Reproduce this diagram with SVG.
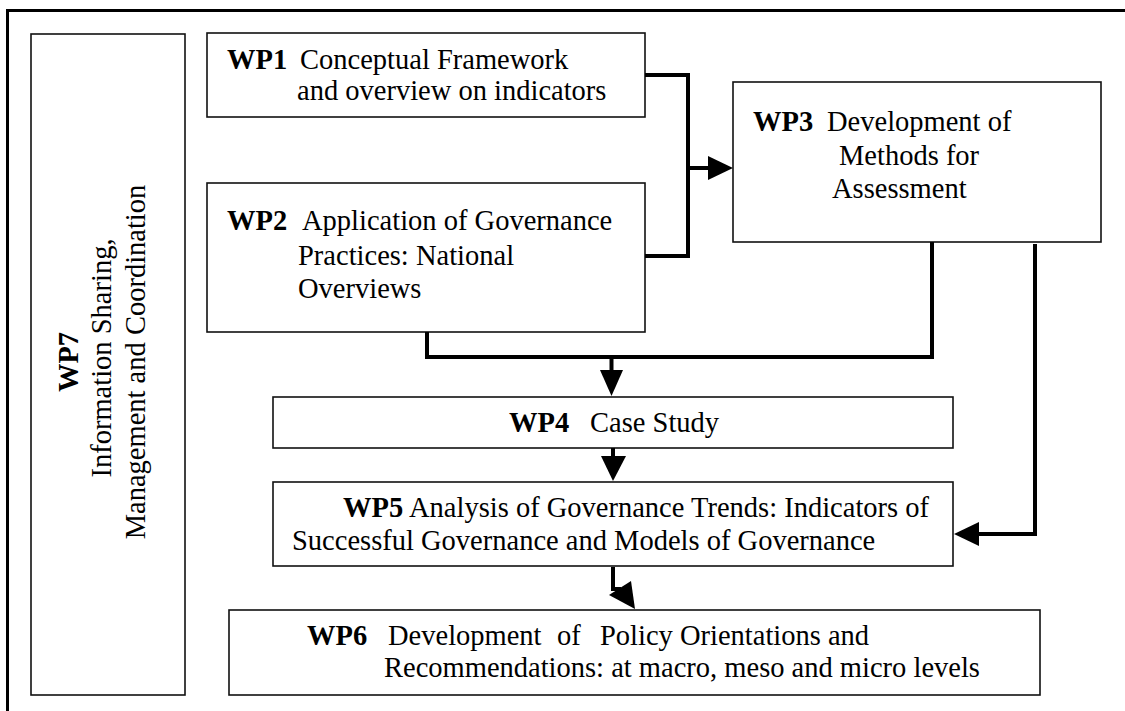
<svg xmlns="http://www.w3.org/2000/svg" width="1125" height="711" viewBox="0 0 1125 711">
<style>
.box{fill:#fff;stroke:#111;stroke-width:1.6}
.t{font-family:"Liberation Serif","Times New Roman",serif;font-size:28.5px;fill:#000}
.b{font-weight:bold}
.c{fill:none;stroke:#000;stroke-width:4;stroke-linejoin:miter}
.ah{fill:#000;stroke:none}
</style>
<rect width="1125" height="711" fill="#fff"/>
<rect x="7.5" y="10.5" width="1130" height="720" fill="none" stroke="#000" stroke-width="3"/>
<g id="wp7">
<rect class="box" x="31" y="34" width="154" height="661"/>
<text class="t b" text-anchor="middle" transform="translate(78,362) rotate(-90)">WP7</text>
<text class="t" text-anchor="middle" transform="translate(111,358) rotate(-90)">Information Sharing,</text>
<text class="t" text-anchor="middle" transform="translate(145,362) rotate(-90)">Management and Coordination</text>
</g>
<g id="wp1">
<rect class="box" x="207" y="33" width="438" height="84"/>
<text class="t b" x="227" y="69">WP1</text>
<text class="t" x="300" y="69">Conceptual Framework</text>
<text class="t" x="297" y="100">and overview on indicators</text>
</g>
<g id="wp2">
<rect class="box" x="207" y="183" width="438" height="149"/>
<text class="t b" x="227" y="230">WP2</text>
<text class="t" x="302" y="230">Application of Governance</text>
<text class="t" x="298" y="265">Practices: National</text>
<text class="t" x="298" y="298">Overviews</text>
</g>
<g id="wp3">
<rect class="box" x="733" y="82" width="368" height="160"/>
<text class="t b" x="753" y="131">WP3</text>
<text class="t" x="827" y="131">Development of</text>
<text class="t" x="839" y="165">Methods for</text>
<text class="t" x="832" y="198">Assessment</text>
</g>
<g id="wp4">
<rect class="box" x="273" y="397" width="680" height="51"/>
<text class="t b" x="509" y="432">WP4</text>
<text class="t" x="590" y="432">Case Study</text>
</g>
<g id="wp5">
<rect class="box" x="273" y="482" width="680" height="84"/>
<text class="t b" x="343" y="517">WP5</text>
<text class="t" x="409" y="517">Analysis of Governance Trends: Indicators of</text>
<text class="t" x="292" y="550">Successful Governance and Models of Governance</text>
</g>
<g id="wp6">
<rect class="box" x="229" y="610" width="811" height="85"/>
<text class="t b" x="307" y="645">WP6</text>
<text class="t" x="388" y="645">Development</text>
<text class="t" x="557" y="645">of</text>
<text class="t" x="600" y="645">Policy Orientations and</text>
<text class="t" x="384" y="677">Recommendations: at macro, meso and micro levels</text>
</g>
<g id="connectors">
<path class="c" d="M645,75 H688 V256 H645"/>
<path class="c" d="M688,168 H710"/>
<polygon class="ah" points="708,156 733,168 708,180"/>
<path class="c" d="M427,332 V357 H932 V242"/>
<path class="c" d="M611.5,357 V372"/>
<polygon class="ah" points="600,370 623,370 611.5,396"/>
<path class="c" d="M613,448 V458"/>
<polygon class="ah" points="601,456 626,456 613,481"/>
<path class="c" d="M1035,244 V534 H977"/>
<polygon class="ah" points="979,522 954,534 979,546"/>
<path class="c" d="M613,567 V589 H621"/>
<polygon class="ah" points="609,595 631,581 635,609"/>
</g>
</svg>
